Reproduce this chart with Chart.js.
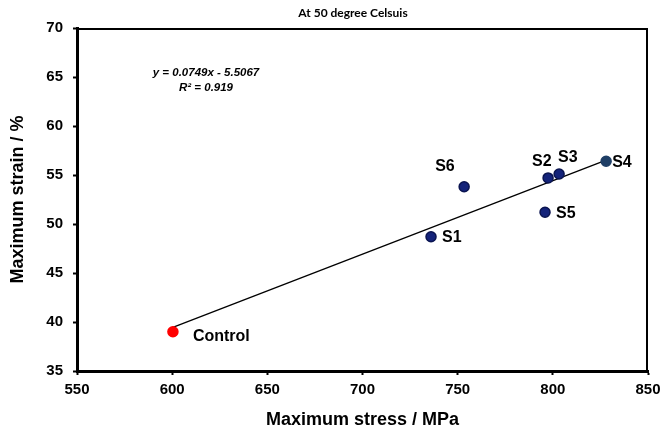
<!DOCTYPE html>
<html>
<head>
<meta charset="utf-8">
<script src="https://cdn.jsdelivr.net/npm/chart.js@4.4.1/dist/chart.umd.min.js"></script>
<style>
html,body{margin:0;padding:0;background:#fff;}
#wrap{width:661px;height:431px;position:relative;}
</style>
</head>
<body>
<div id="wrap"><canvas id="c" width="661" height="431"></canvas></div>
<script>
// ---- data ----
const categories   = ['Control', 'S1', 'S2', 'S3', 'S4', 'S5', 'S6'];
const stressValues = [600.4, 736.0, 797.5, 803.3, 828.0, 795.9, 753.4];
const strainValues = [39.0, 48.7, 54.7, 55.1, 56.4, 51.2, 53.8];
const xTickValues  = [550, 600, 650, 700, 750, 800, 850];
const yTickValues  = [35, 40, 45, 50, 55, 60, 65, 70];
const trendSlope     = 0.0749;
const trendIntercept = -5.5067;
const trendXRange    = [600, 828];
const equationLines  = ['y = 0.0749x - 5.5067', 'R\u00B2 = 0.919'];
const chartTitle     = 'At 50 degree Celsuis';
const xAxisTitle     = 'Maximum stress / MPa';
const yAxisTitle     = 'Maximum strain / %';

// ---- styling (not data) ----
const pointFill   = ['#ff0000', '#14237a', '#14237a', '#14237a', '#1f3f66', '#14237a', '#14237a'];
const pointBorder = ['#ff0000', '#0a1450', '#0a1450', '#0a1450', '#1f3f66', '#0a1450', '#0a1450'];
const labelOffsets = {
  Control: [20, 5], S1: [11, 1], S2: [-16, -16], S3: [-1, -16],
  S4: [6, 1], S5: [11, 1], S6: [-29, -20]
};

const pts = categories.map((c, i) => ({ x: stressValues[i], y: strainValues[i], name: c }));
const trendPts = trendXRange.map(x => ({ x: x, y: trendSlope * x + trendIntercept }));

const overlay = {
  id: 'overlay',
  afterDatasetsDraw(chart) {
    const ctx = chart.ctx;
    const xs = chart.scales.x, ys = chart.scales.y;
    const ca = chart.chartArea;
    ctx.save();
    // frame top / right
    ctx.strokeStyle = '#000';
    ctx.lineWidth = 2;
    ctx.beginPath();
    ctx.moveTo(ca.left, ca.top + 1);
    ctx.lineTo(ca.right - 1, ca.top + 1);
    ctx.lineTo(ca.right - 1, ca.bottom);
    ctx.stroke();
    // point labels
    ctx.fillStyle = '#000';
    ctx.font = 'bold 16px "Liberation Sans", Arial, sans-serif';
    ctx.textAlign = 'left';
    ctx.textBaseline = 'middle';
    pts.forEach(p => {
      const px = xs.getPixelForValue(p.x), py = ys.getPixelForValue(p.y);
      const o = labelOffsets[p.name];
      ctx.fillText(p.name, px + o[0], py + o[1]);
    });
    // equation
    ctx.font = 'italic bold 11.5px "Liberation Sans", Arial, sans-serif';
    ctx.textAlign = 'center';
    ctx.fillText(equationLines[0], 206, 73);
    ctx.fillText(equationLines[1], 206, 88);
    // title
    ctx.font = 'bold 12px Lato, "Open Sans", sans-serif';
    ctx.fillText(chartTitle, 353, 13);
    ctx.restore();
  }
};

new Chart(document.getElementById('c'), {
  type: 'scatter',
  data: {
    datasets: [
      {
        type: 'line',
        data: trendPts,
        borderColor: '#000',
        borderWidth: 1.3,
        pointRadius: 0,
        fill: false,
        order: 2
      },
      {
        data: pts,
        pointRadius: 5,
        pointBackgroundColor: pointFill,
        pointBorderColor: pointBorder,
        pointBorderWidth: 1.5,
        order: 1
      }
    ]
  },
  options: {
    responsive: false,
    animation: false,
    devicePixelRatio: 1,
    layout: { padding: { left: 0, right: 13, top: 28, bottom: 0 } },
    plugins: { legend: { display: false }, tooltip: { enabled: false }, title: { display: false } },
    scales: {
      x: {
        type: 'linear',
        min: 550, max: 850,
        afterBuildTicks: s => { s.ticks = xTickValues.map(v => ({ value: v })); },
        afterFit: s => { s.height = 60; s.paddingLeft = 0; s.paddingRight = 0; },
        border: { display: true, color: '#000', width: 3 },
        grid: { display: true, drawOnChartArea: false, drawTicks: true, tickLength: 4, tickWidth: 2, tickColor: '#000' },
        ticks: { color: '#000', padding: 6, font: { family: '"Liberation Sans", Arial, sans-serif', size: 15, weight: 'bold' } },
        title: { display: true, text: xAxisTitle, color: '#000', padding: { top: 9, bottom: 0 },
                 font: { family: '"Liberation Sans", Arial, sans-serif', size: 18, weight: 'bold' } }
      },
      y: {
        type: 'linear',
        min: 35, max: 70,
        afterBuildTicks: s => { s.ticks = yTickValues.map(v => ({ value: v })); },
        afterFit: s => { s.width = 77; s.paddingTop = 0; s.paddingBottom = 0; },
        border: { display: true, color: '#000', width: 3 },
        grid: { display: true, drawOnChartArea: false, drawTicks: true, tickLength: 4, tickWidth: 2, tickColor: '#000' },
        ticks: { color: '#000', padding: 10, font: { family: '"Liberation Sans", Arial, sans-serif', size: 15, weight: 'bold' } },
        title: { display: true, text: yAxisTitle, color: '#000', padding: { top: 7, bottom: 0 },
                 font: { family: '"Liberation Sans", Arial, sans-serif', size: 18, weight: 'bold' } }
      }
    }
  },
  plugins: [overlay]
});
</script>
</body>
</html>
